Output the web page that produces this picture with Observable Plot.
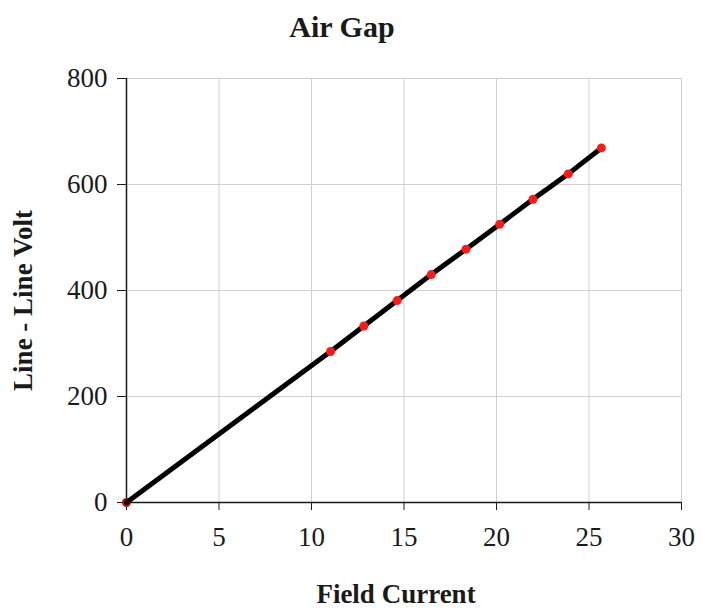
<!DOCTYPE html>
<html>
<head>
<meta charset="utf-8">
<script src="https://cdn.jsdelivr.net/npm/d3@7"></script>
<script src="https://cdn.jsdelivr.net/npm/@observablehq/plot@0.6"></script>
<style>
  body { margin: 0; background: #fff; }
  #title { width: 702px; height: 55px; line-height: 54px; text-align: center; font-family: "Liberation Serif", serif; font-weight: bold; font-size: 30px; color: #1a1a1a; padding-right: 18px; box-sizing: border-box; }
  #chart svg g[aria-label$="tick label"] { font-size: 27px; }
</style>
</head>
<body>
<div id="title">Air Gap</div>
<div id="chart"></div>
<script>
const fieldCurrent = [0, 11.03, 12.83, 14.63, 16.47, 18.35, 20.17, 21.97, 23.88, 25.67];
const lineVolt     = [0, 285, 333, 381, 430, 478, 525, 572, 620, 669];
const measuredIdx  = [0, 1, 2, 3, 4, 5, 6, 7, 8, 9];
const xTicks = [0, 5, 10, 15, 20, 25, 30];
const yTicks = [0, 200, 400, 600, 800];
const xLabel = "Field Current";
const yLabel = "Line - Line Volt";

const data = fieldCurrent.map((x, i) => ({x, y: lineVolt[i]}));
const pts = measuredIdx.map(i => data[i]);

const chart = Plot.plot({
  width: 702,
  height: 556,
  marginLeft: 126,
  marginRight: 21,
  marginTop: 23,
  marginBottom: 109,
  style: { fontFamily: "Liberation Serif, serif", fontSize: "27px", color: "#1a1a1a", background: "#fff" },
  x: { domain: [0, 30] },
  y: { domain: [0, 800] },
  marks: [
    Plot.gridX(xTicks, { stroke: "#d0d0d0", strokeOpacity: 1, strokeWidth: 1 }),
    Plot.gridY(yTicks, { stroke: "#d0d0d0", strokeOpacity: 1, strokeWidth: 1 }),
    Plot.axisX(xTicks, { tickSize: 8, tickPadding: 16, fontSize: 27, label: null, stroke: "#1a1a1a" }),
    Plot.axisY(yTicks, { tickSize: 9, tickPadding: 10, fontSize: 27, label: null, stroke: "#1a1a1a" }),
    Plot.ruleX([0], { stroke: "#1a1a1a", strokeWidth: 1.5 }),
    Plot.ruleY([0], { stroke: "#1a1a1a", strokeWidth: 1.5 }),
    Plot.dot([pts[0]], { x: "x", y: "y", r: 4.5, fill: "#c01010", stroke: "none" }),
    Plot.line(data, { x: "x", y: "y", stroke: "#000", strokeWidth: 5 }),
    Plot.dot(pts.slice(1), { x: "x", y: "y", r: 4.5, fill: "#ff1a1a", stroke: "none" }),
    Plot.text([xLabel], { frameAnchor: "bottom", dx: -8, dy: 92, lineAnchor: "middle", fontSize: 27, fontWeight: "bold", fill: "#1a1a1a" }),
    Plot.text([yLabel], { frameAnchor: "left", dx: -103, dy: 10, rotate: -90, lineAnchor: "middle", textAnchor: "middle", fontSize: 27, fontWeight: "bold", fill: "#1a1a1a" })
  ]
});
document.getElementById("chart").appendChild(chart);
</script>
</body>
</html>
